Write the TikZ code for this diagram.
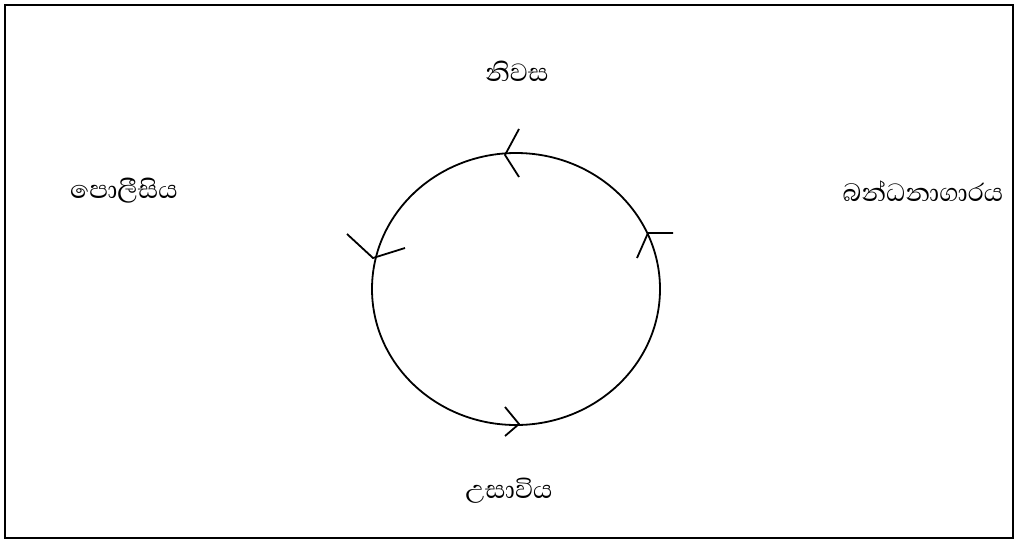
\documentclass[tikz,border=0pt]{standalone}
\usepackage{fontspec}
\newfontfamily\sinhala[Script=Sinhala]{Abhaya Libre}
\usetikzlibrary{positioning, shapes.geometric}

\begin{document}
\begin{tikzpicture}[x=1pt, y=-1pt,
  place/.style={font=\sinhala\fontsize{32}{36}\selectfont, inner sep=0pt},
  barb/.style={line width=1.8pt, line join=miter},
]
\useasboundingbox (0,0) rectangle (1016,541);
\node[draw, line width=2pt, minimum width=1008pt, minimum height=533pt, anchor=north west] (frame) at (4,4) {};
\node[place] (home)   at (517,71)  {නිවස};
\node[place] (police) at (124,191) {පොලීසිය};
\node[place] (prison) at (923,191) {බන්ධනාගාරය};
\node[place] (court)  at (509,491) {උසාවිය};
\node[draw, line width=1.8pt, ellipse, minimum width=288pt, minimum height=272pt, inner sep=0pt] (cycle) at (516,289) {};
% heads on the cycle
\draw[barb] (519,129) -- (505,155) -- (519,177);
\draw[barb] (347,234) -- (373,258) -- (405,248);
\draw[barb] (505,407) -- (519,424) -- (505,436);
\draw[barb] (637,258) -- (648,233) -- (673,233);
\end{tikzpicture}
\end{document}
